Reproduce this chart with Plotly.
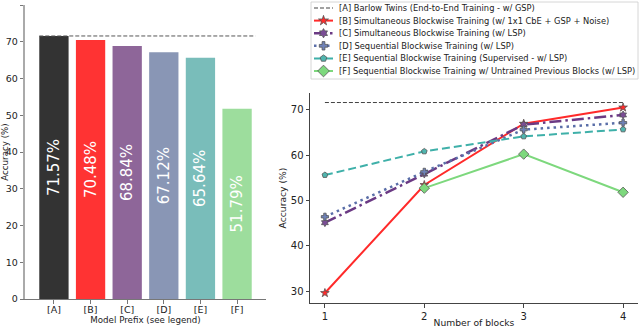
import plotly.graph_objects as go

# ---------------- data ----------------
bar_labels = ["[A]", "[B]", "[C]", "[D]", "[E]", "[F]"]
bar_values = [71.57, 70.48, 68.84, 67.12, 65.64, 51.79]

blocks = [1, 2, 3, 4]
acc_A = [71.57, 71.57, 71.57, 71.57]
acc_B = [29.6, 53.4, 66.9, 70.48]
acc_C = [45.1, 55.8, 66.7, 68.84]
acc_D = [46.4, 56.3, 65.6, 67.12]
acc_E = [55.6, 60.8, 64.1, 65.64]
acc_F = [None, 52.7, 60.2, 51.79]

legend_names = [
    "[A] Barlow Twins (End-to-End Training - w/ GSP)",
    "[B] Simultaneous Blockwise Training (w/ 1x1 CbE + GSP + Noise)",
    "[C] Simultaneous Blockwise Training (w/ LSP)",
    "[D] Sequential Blockwise Training (w/ LSP)",
    "[E] Sequential Blockwise Training (Supervised - w/ LSP)",
    "[F] Sequential Blockwise Training w/ Untrained Previous Blocks (w/ LSP)",
]

# ---------------- styles ----------------
W, H = 640, 328
FONT = "DejaVu Sans"
bar_colors = ["#333333", "#ff3333", "#8e6699", "#8996b5", "#79bdba", "#9ddd9d"]

styles = [
    dict(color="#444444", width=1, dash="4px,2px", symbol=None, msize=0),
    dict(color="#ff2a2a", width=2, dash="solid", symbol="star", msize=6.5),
    dict(color="#6b3a84", width=2.5, dash="12px,4px,2.5px,4px", symbol="hexagram", msize=6),
    dict(color="#5a6ea8", width=2.5, dash="2.5px,4px", symbol="cross", msize=6),
    dict(color="#3fb0a9", width=2, dash="8px,4px", symbol="pentagon", msize=6),
    dict(color="#7dd87d", width=2, dash="solid", symbol="diamond", msize=8),
]
marker_fill = [None, "#ff2a2a", "#7a4d95", "#6f82b8", "#4fb5ae", "#7dd87d"]

fig = go.Figure()

# ---------------- left: bars ----------------
xpos = list(range(len(bar_labels)))
fig.add_trace(go.Bar(
    x=xpos, y=bar_values, width=0.8,
    marker=dict(color=bar_colors, line=dict(width=0)),
    text=[f"{v:.2f}%" for v in bar_values],
    textposition="inside", insidetextanchor="middle", textangle=-90,
    insidetextfont=dict(family=FONT, size=15, color="white"),
    xaxis="x", yaxis="y", showlegend=False, hoverinfo="skip",
))
fig.add_trace(go.Scatter(
    x=[xpos[0] - 0.4, xpos[-1] + 0.5], y=[bar_values[0]] * 2,
    mode="lines", line=dict(color="#555555", width=1, dash="4px,2px"),
    xaxis="x", yaxis="y", showlegend=False, hoverinfo="skip",
))

# ---------------- right: lines ----------------
series = [acc_A, acc_B, acc_C, acc_D, acc_E, acc_F]
for i, (ys, st) in enumerate(zip(series, styles)):
    if st["symbol"] is None:
        fig.add_trace(go.Scatter(
            x=blocks, y=ys, mode="lines",
            line=dict(color=st["color"], width=st["width"], dash=st["dash"]),
            xaxis="x2", yaxis="y2", showlegend=False,
        ))
    else:
        fig.add_trace(go.Scatter(
            x=blocks, y=ys, mode="lines+markers",
            line=dict(color=st["color"], width=st["width"], dash=st["dash"]),
            marker=dict(symbol=st["symbol"], size=st["msize"], color=marker_fill[i],
                        line=dict(color="#555555", width=0.8)),
            xaxis="x2", yaxis="y2", showlegend=False,
        ))

# ---------------- manual legend (overlay axis) ----------------
for i, st in enumerate(styles):
    if st["symbol"] is None:
        fig.add_trace(go.Scatter(
            x=[3, 22], y=[i, i], mode="lines",
            line=dict(color=st["color"], width=1.2, dash="4px,2px"),
            xaxis="x3", yaxis="y3", showlegend=False, hoverinfo="skip",
        ))
    else:
        fig.add_trace(go.Scatter(
            x=[3, 12.5, 22], y=[i, i, i], mode="lines+markers",
            line=dict(color=st["color"], width=st["width"], dash=st["dash"]),
            marker=dict(symbol=st["symbol"], size=st["msize"] + 1, color=marker_fill[i],
                        opacity=[0, 1, 0], line=dict(color="#555555", width=0.8)),
            xaxis="x3", yaxis="y3", showlegend=False, hoverinfo="skip",
        ))
    fig.add_annotation(
        x=26, y=i, xref="x3", yref="y3", text=legend_names[i], showarrow=False,
        xanchor="left", yanchor="middle",
        font=dict(family=FONT, size=8.3, color="#222222"),
    )

fig.add_shape(type="rect", xref="paper", yref="paper",
              x0=311 / W, x1=638 / W, y0=1 - 79 / H, y1=1 - 2 / H,
              line=dict(color="#cccccc", width=0.8), fillcolor="rgba(0,0,0,0)", layer="below")

axis_common = dict(showgrid=False, zeroline=False, showline=True, ticks="outside",
                   ticklen=3.5, tickwidth=1, mirror=False, automargin=False)

fig.update_layout(
    width=W, height=H,
    margin=dict(l=0, r=0, t=0, b=0, autoexpand=False),
    paper_bgcolor="white", plot_bgcolor="white",
    font=dict(family=FONT, color="#222222"),
    bargap=0.2,
    xaxis=dict(domain=[25 / W, 266 / W], range=[-0.79, 5.79], anchor="y",
               tickvals=xpos, ticktext=bar_labels, ticklabelstandoff=-2,
               tickfont=dict(size=9.5), linecolor="#777777", tickcolor="#777777",
               title=dict(text="Model Prefix (see legend)", font=dict(size=8.7), standoff=0),
               **axis_common),
    yaxis=dict(domain=[1 - 299 / H, 1 - 5 / H], range=[0, 80], dtick=10, anchor="x",
               tickfont=dict(size=9.5), linecolor="#aaaaaa", linewidth=1.5, tickcolor="#777777",
               title=dict(text="Accuracy (%)", font=dict(size=8.7), standoff=2),
               **axis_common),
    xaxis2=dict(domain=[310 / W, 638 / W], range=[0.85, 4.15], anchor="y2",
                tickvals=blocks, tickfont=dict(size=10), linecolor="#444444", tickcolor="#444444",
                title=dict(text="Number of blocks", font=dict(size=9.2), standoff=2),
                **axis_common),
    yaxis2=dict(domain=[1 - 303 / H, 1 - 93 / H], range=[27.4, 73.67], anchor="x2",
                tickvals=[30, 40, 50, 60, 70], tickfont=dict(size=10),
                linecolor="#444444", tickcolor="#444444",
                title=dict(text="Accuracy (%)", font=dict(size=9.2), standoff=2),
                **axis_common),
    xaxis3=dict(domain=[311 / W, 638 / W], range=[0, 327], anchor="y3", visible=False,
                fixedrange=True),
    yaxis3=dict(domain=[1 - 79 / H, 1 - 2 / H], range=[5.635, -0.476], anchor="x3",
                visible=False, fixedrange=True),
)

fig.write_html(
    "out.html",
    config={"displayModeBar": False},
    post_script="document.body.style.margin='0';document.body.style.overflow='hidden';",
)
